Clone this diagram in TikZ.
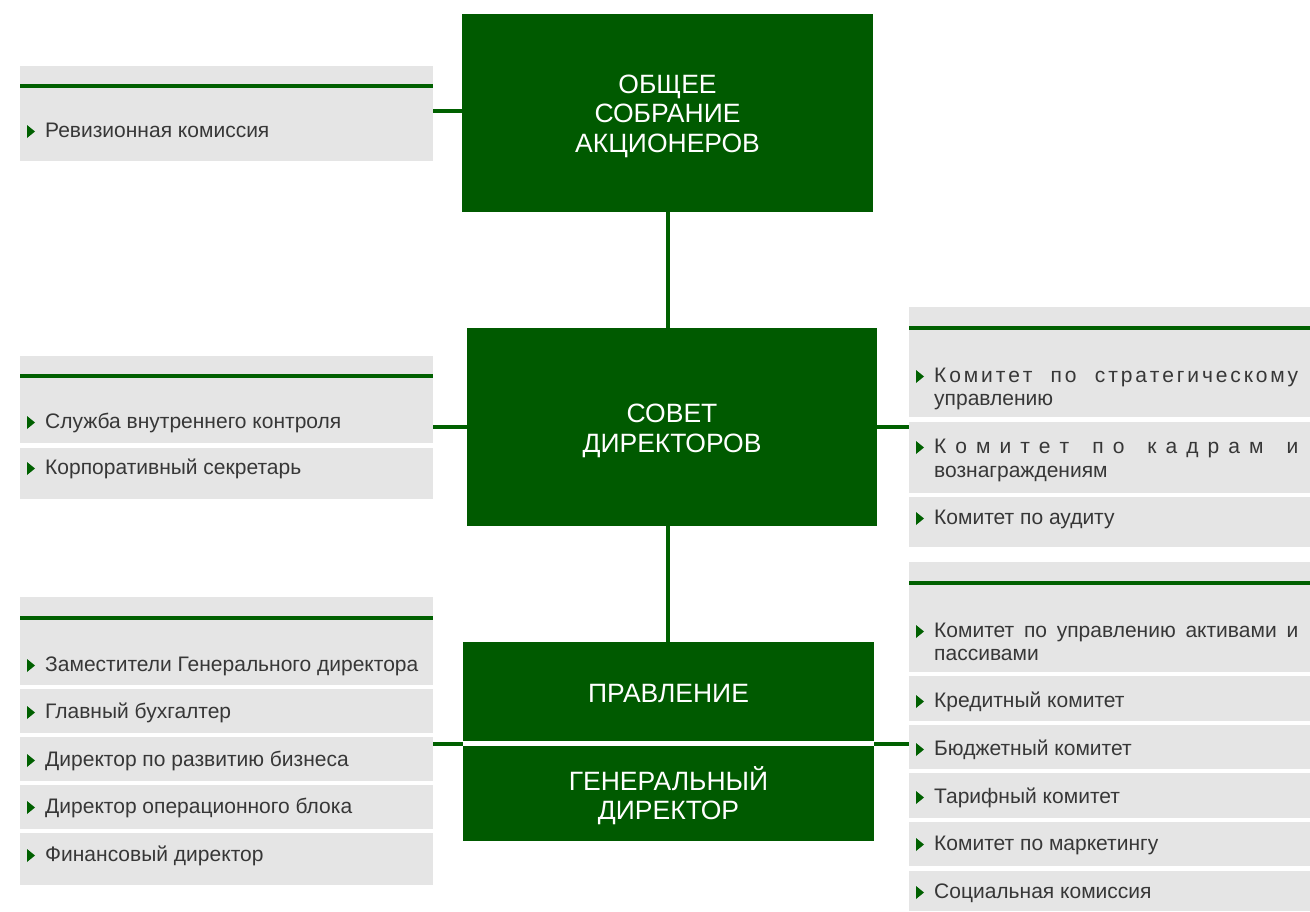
\documentclass[tikz,border=0pt]{standalone}
\usepackage{fontspec}
\setmainfont{Liberation Sans}
\definecolor{boxgreen}{RGB}{0,90,0}
\definecolor{linegreen}{RGB}{0,96,0}
\definecolor{panelgray}{RGB}{229,229,229}
\definecolor{txtgray}{RGB}{55,55,55}
\newcommand\lsp{\hskip0pt plus 1fil\relax}
\newcommand\wspA{\hskip5pt plus 4.6fil\relax}
\newcommand\wspB{\hskip5pt plus 2fil\relax}
\tikzset{
  mainbox/.style={fill=boxgreen, inner sep=0pt},
  boxtext/.style={text=white, align=center, inner sep=0pt,
    font=\fontsize{26.5}{29.5}\selectfont},
  itembox/.style={fill=panelgray, inner sep=0pt, outer sep=0pt, anchor=north west},
  conn/.style={draw=linegreen, line width=4pt},
  hdrline/.style={draw=linegreen, line width=4pt},
  itemtext/.style={anchor=base west, inner sep=0pt, text=txtgray,
    font=\fontsize{21}{23}\selectfont},
  marker/.style={fill=linegreen}
}
% #1 name, #2 x of text, #3 baseline y, #4 text
\newcommand\orgitem[4]{%
  \fill[marker] ({#2-18},{#3-12}) -- ({#2-10},{#3-5.5}) -- ({#2-18},{#3+1}) -- cycle;
  \node[itemtext] (#1) at (#2,#3) {#4};}
\newcommand\plaintext[4]{\node[itemtext] (#1) at (#2,#3) {#4};}
\begin{document}
\begin{tikzpicture}[x=1pt,y=-1pt]
\useasboundingbox (0,0) rectangle (1310,911);

% ---------- main boxes ----------
\node[mainbox, minimum width=411pt, minimum height=198pt] (b1) at (667.5,113) {};
\node[boxtext] (b1t) at ([yshift=-3pt]b1.center) {ОБЩЕЕ\\СОБРАНИЕ\\АКЦИОНЕРОВ};
\node[mainbox, minimum width=410pt, minimum height=198pt] (b2) at (672,427) {};
\node[boxtext] (b2t) at ([yshift=-4pt]b2.center) {СОВЕТ\\ДИРЕКТОРОВ};
\node[mainbox, minimum width=411pt, minimum height=99pt] (pr) at (668.5,691.5) {};
\node[boxtext] (prt) at ([yshift=-2pt]pr.center) {ПРАВЛЕНИЕ};
\node[mainbox, minimum width=411pt, minimum height=95pt] (gd) at (668.5,793.5) {};
\node[boxtext] (gdt) at ([yshift=-2pt]gd.center) {ГЕНЕРАЛЬНЫЙ\\ДИРЕКТОР};

% ---------- left panel 1 ----------
\node[itembox, minimum width=413pt, minimum height=95pt] (l1a) at (20,66) {};
\draw[hdrline] (l1a.west |- 0,86) -- (l1a.east |- 0,86);
\orgitem{t1}{45}{137}{Ревизионная комиссия}

% ---------- left panel 2 ----------
\node[itembox, minimum width=413pt, minimum height=87pt] (l2a) at (20,356) {};
\node[itembox, minimum width=413pt, minimum height=51pt] (l2b) at (20,448) {};
\draw[hdrline] (l2a.west |- 0,376) -- (l2a.east |- 0,376);
\orgitem{t2}{45}{428}{Служба внутреннего контроля}
\orgitem{t3}{45}{474}{Корпоративный секретарь}

% ---------- left panel 3 ----------
\node[itembox, minimum width=413pt, minimum height=88pt] (l3a) at (20,597) {};
\node[itembox, minimum width=413pt, minimum height=44pt] (l3b) at (20,689) {};
\node[itembox, minimum width=413pt, minimum height=44pt] (l3c) at (20,737) {};
\node[itembox, minimum width=413pt, minimum height=44pt] (l3d) at (20,785) {};
\node[itembox, minimum width=413pt, minimum height=52pt] (l3e) at (20,833) {};
\draw[hdrline] (l3a.west |- 0,618) -- (l3a.east |- 0,618);
\orgitem{t4}{45}{671}{Заместители Генерального директора}
\orgitem{t5}{45}{718}{Главный бухгалтер}
\orgitem{t6}{45}{766}{Директор по развитию бизнеса}
\orgitem{t7}{45}{813}{Директор операционного блока}
\orgitem{t8}{45}{861}{Финансовый директор}

% ---------- right panel 2 ----------
\node[itembox, minimum width=401pt, minimum height=110pt] (r2a) at (909,307) {};
\node[itembox, minimum width=401pt, minimum height=71pt] (r2b) at (909,422) {};
\node[itembox, minimum width=401pt, minimum height=50pt] (r2c) at (909,497) {};
\draw[hdrline] (r2a.west |- 0,328) -- (r2a.east |- 0,328);
\orgitem{t9}{934}{382}{\hbox to 364pt{К\lsp о\lsp м\lsp и\lsp т\lsp е\lsp т\wspA п\lsp о\wspA с\lsp т\lsp р\lsp а\lsp т\lsp е\lsp г\lsp и\lsp ч\lsp е\lsp с\lsp к\lsp о\lsp м\lsp у}}
\plaintext{t9b}{934}{405}{управлению}
\orgitem{t10}{934}{453}{\hbox to 364pt{К\lsp о\lsp м\lsp и\lsp т\lsp е\lsp т\wspB п\lsp о\wspB к\lsp а\lsp д\lsp р\lsp а\lsp м\wspB и}}
\plaintext{t10b}{934}{477}{вознаграждениям}
\orgitem{t11}{934}{524}{Комитет по аудиту}

% ---------- right panel 3 ----------
\node[itembox, minimum width=401pt, minimum height=110pt] (r3a) at (909,562) {};
\node[itembox, minimum width=401pt, minimum height=45pt] (r3b) at (909,676) {};
\node[itembox, minimum width=401pt, minimum height=44pt] (r3c) at (909,725) {};
\node[itembox, minimum width=401pt, minimum height=45pt] (r3d) at (909,773) {};
\node[itembox, minimum width=401pt, minimum height=44pt] (r3e) at (909,822) {};
\node[itembox, minimum width=401pt, minimum height=40pt] (r3f) at (909,871) {};
\draw[hdrline] (r3a.west |- 0,583) -- (r3a.east |- 0,583);
\orgitem{t12}{934}{637}{\makebox[364pt][s]{Комитет по управлению активами и}}
\plaintext{t12b}{934}{660}{пассивами}
\orgitem{t13}{934}{707}{Кредитный комитет}
\orgitem{t14}{934}{755}{Бюджетный комитет}
\orgitem{t15}{934}{803}{Тарифный комитет}
\orgitem{t16}{934}{850}{Комитет по маркетингу}
\orgitem{t17}{934}{898}{Социальная комиссия}

% ---------- connectors ----------
\coordinate (m1) at (668,744);
\draw[conn] (b1.south -| m1) -- (b2.north -| m1);
\draw[conn] (b2.south -| m1) -- (pr.north -| m1);
\draw[conn] (b1.west |- 0,111) -- (l1a.east |- 0,111);
\draw[conn] (b2.west) -- (l2a.east |- b2.west);
\draw[conn] (b2.east) -- (r2b.west |- b2.east);
\draw[conn] (l3c.east |- m1) -- (pr.south west |- m1);
\draw[conn] (pr.south east |- m1) -- (r3c.west |- m1);
\end{tikzpicture}
\end{document}
